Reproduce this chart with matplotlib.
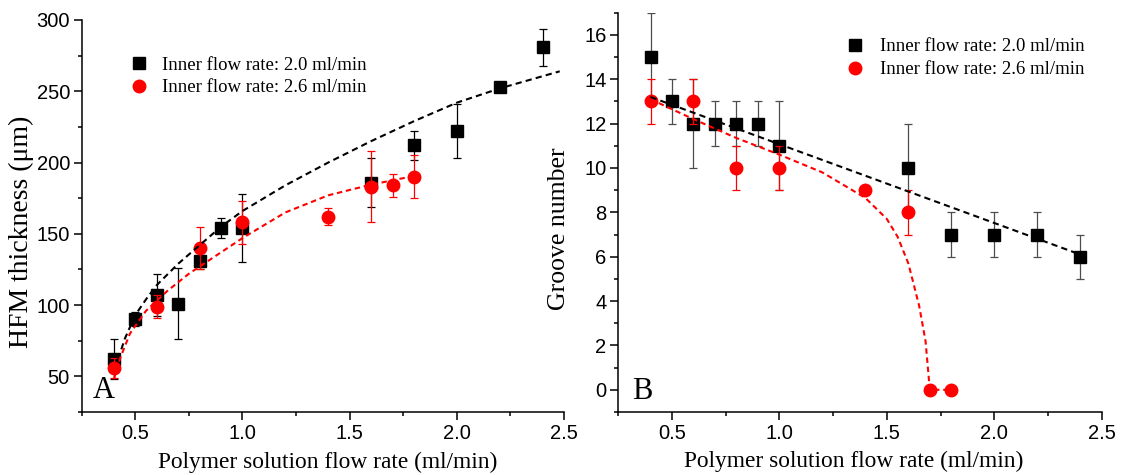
import matplotlib
matplotlib.use('Agg')
import matplotlib.pyplot as plt
from matplotlib.ticker import MultipleLocator
from matplotlib.lines import Line2D

plt.rcParams['font.family'] = ['Liberation Sans', 'DejaVu Sans']

# ---- panel A: HFM thickness ----
a_x_20 = [0.4, 0.5, 0.6, 0.7, 0.8, 0.9, 1.0, 1.6, 1.8, 2.0, 2.2, 2.4]
a_y_20 = [62, 90, 107, 101, 131, 154, 154, 186, 212, 222, 253, 281]
a_e_20 = [14, 5, 15, 25, 6, 7, 24, 17, 10, 19, 3, 13]
a_x_26 = [0.4, 0.6, 0.8, 1.0, 1.4, 1.6, 1.7, 1.8]
a_y_26 = [56, 99, 140, 158, 162, 183, 184, 190]
a_e_26 = [7, 8, 15, 15, 6, 25, 8, 15]
# fitted curves
a_fit_x_20 = [0.42, 0.45, 0.5, 0.55, 0.6, 0.7, 0.8, 0.9, 1.0, 1.2, 1.4, 1.6, 1.8, 2.0, 2.2, 2.48]
a_fit_y_20 = [62, 76, 93, 104, 114, 129, 142, 155, 166, 184, 200, 215, 229, 242, 252, 264]
a_fit_x_26 = [0.40, 0.43, 0.475, 0.55, 0.65, 0.75, 0.9, 1.0, 1.2, 1.4, 1.6, 1.83]
a_fit_y_26 = [48, 63, 80, 96, 110, 122, 137, 147, 165, 177, 184.5, 191.5]

# ---- panel B: groove number ----
b_x_20 = [0.4, 0.5, 0.6, 0.7, 0.8, 0.9, 1.0, 1.6, 1.8, 2.0, 2.2, 2.4]
b_y_20 = [15, 13, 12, 12, 12, 12, 11, 10, 7, 7, 7, 6]
b_e_20 = [2, 1, 2, 1, 1, 1, 2, 2, 1, 1, 1, 1]
b_x_26 = [0.4, 0.6, 0.8, 1.0, 1.4, 1.6, 1.7, 1.8]
b_y_26 = [13, 13, 10, 10, 9, 8, 0, 0]
b_e_26 = [1, 1, 1, 1, 0, 1, 0, 0]
b_fit_x_20 = [0.4, 2.4]
b_fit_y_20 = [13.2, 6.1]
b_fit_x_26 = [0.40, 0.6, 0.8, 1.0, 1.2, 1.4, 1.5, 1.55, 1.6, 1.65, 1.68, 1.70, 1.80]
b_fit_y_26 = [13.1, 12.2, 11.35, 10.6, 9.8, 8.65, 7.7, 6.9, 5.7, 3.8, 2.2, 0.0, 0.0]

labels = ['Inner flow rate: 2.0 ml/min', 'Inner flow rate: 2.6 ml/min']
serif = ['Liberation Serif', 'DejaVu Serif']

fig = plt.figure(figsize=(11.34, 4.75), dpi=100)
W, H = 1134.0, 475.0
axA = fig.add_axes([81.7 / W, 1 - 412 / H, (564 - 81.7) / W, (412 - 20) / H])
axB = fig.add_axes([618.3 / W, 1 - 412 / H, (1101.7 - 618.3) / W, (412 - 12.7) / H])


def style(ax):
    for s in ['top', 'right']:
        ax.spines[s].set_visible(False)
    for s in ['left', 'bottom']:
        ax.spines[s].set_linewidth(1.1)
    ax.tick_params(which='major', length=5.5, width=1.1, labelsize=14.5, pad=3)
    ax.tick_params(which='minor', length=3.2, width=1.1)
    ax.xaxis.set_major_locator(MultipleLocator(0.5))
    ax.xaxis.set_minor_locator(MultipleLocator(0.25))
    ax.set_xlim(0.25, 2.5)


def draw(ax, x1, y1, e1, x2, y2, e2, fx1, fy1, fx2, fy2, ecol):
    ax.errorbar(x1, y1, yerr=e1, fmt='s', color='black', ms=8.5, ecolor=ecol,
                elinewidth=0.9, capsize=3, capthick=0.9, zorder=2)
    ax.errorbar(x2, y2, yerr=e2, fmt='o', color='red', ms=9, ecolor='red',
                elinewidth=0.9, capsize=3, capthick=0.9, zorder=3)
    ax.plot(fx1, fy1, color='black', lw=1.5, linestyle=(0, (3, 2)), zorder=4)
    ax.plot(fx2, fy2, color='red', lw=1.5, linestyle=(0, (2.6, 1.8)), zorder=4)


def legend(ax, x, y, hp):
    h = [Line2D([], [], ls='none', marker='s', ms=8.5, color='black'),
         Line2D([], [], ls='none', marker='o', ms=9, color='red')]
    ax.legend(h, labels, loc='upper left', bbox_to_anchor=(x, y), frameon=False,
              borderpad=0, borderaxespad=0, handlelength=1.0, handletextpad=hp,
              labelspacing=0.3, prop={'family': serif, 'size': 13.5})


# panel A
style(axA)
draw(axA, a_x_20, a_y_20, a_e_20, a_x_26, a_y_26, a_e_26,
     a_fit_x_20, a_fit_y_20, a_fit_x_26, a_fit_y_26, 'black')
axA.set_ylim(25, 300)
axA.yaxis.set_major_locator(MultipleLocator(50))
axA.yaxis.set_minor_locator(MultipleLocator(25))
axA.set_ylabel('HFM thickness (\u03bcm)', family=serif, fontsize=20, va='center')
axA.yaxis.set_label_coords(-0.124, 0.46)
axA.set_xlabel('Polymer solution flow rate (ml/min)', family=serif, fontsize=16.8, va='center')
axA.xaxis.set_label_coords(0.511, -0.128)
axA.text(0.023, 0.036, 'A', transform=axA.transAxes, family=serif, fontsize=22,
         ha='left', va='baseline')
legend(axA, 0.0993, 0.907, 0.71)

# panel B
style(axB)
draw(axB, b_x_20, b_y_20, b_e_20, b_x_26, b_y_26, b_e_26,
     b_fit_x_20, b_fit_y_20, b_fit_x_26, b_fit_y_26, '0.3')
axB.set_ylim(-1, 17)
axB.yaxis.set_major_locator(MultipleLocator(2))
axB.yaxis.set_minor_locator(MultipleLocator(1))
axB.set_ylabel('Groove number', family=serif, fontsize=18.5, va='center')
axB.yaxis.set_label_coords(-0.123, 0.46)
axB.set_xlabel('Polymer solution flow rate (ml/min)', family=serif, fontsize=16.8, va='center')
axB.xaxis.set_label_coords(0.487, -0.124)
axB.text(0.028, 0.033, 'B', transform=axB.transAxes, family=serif, fontsize=22,
         ha='left', va='baseline')
legend(axB, 0.470, 0.936, 0.835)

fig.savefig('out.png', dpi=100)
